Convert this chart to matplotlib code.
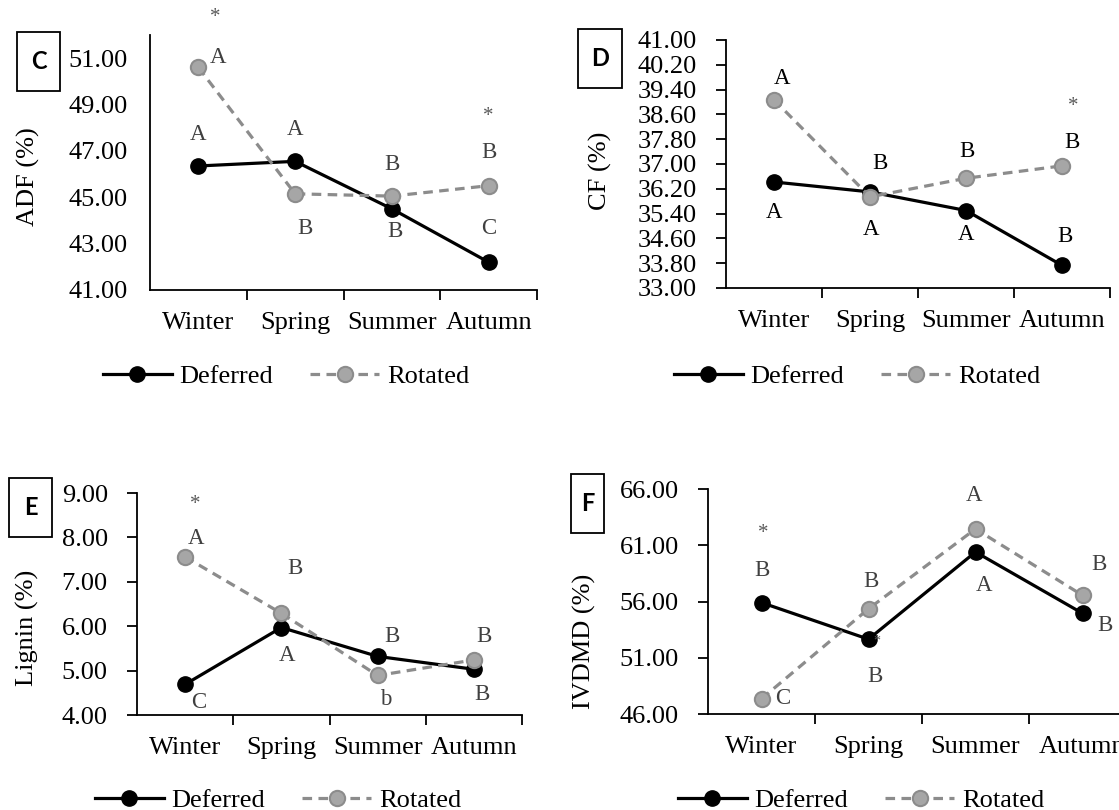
import matplotlib
matplotlib.use("Agg")
import matplotlib.pyplot as plt
from matplotlib.patches import Rectangle

plt.rcParams['font.family'] = ['Liberation Serif', 'DejaVu Serif']

seasons = ["Winter", "Spring", "Summer", "Autumn"]

# C - ADF
adf_deferred = [46.35, 46.55, 44.50, 42.20]
adf_rotated = [50.60, 45.15, 45.05, 45.50]
adf_def_letters = ["A", "A", "B", "C"]
adf_rot_letters = ["A", "B", "B", "B"]

# D - CF
cf_deferred = [36.42, 36.10, 35.50, 33.73]
cf_rotated = [39.07, 35.94, 36.54, 36.94]
cf_def_letters = ["A", "A", "A", "B"]
cf_rot_letters = ["A", "B", "B", "B"]

# E - Lignin
lig_deferred = [4.69, 5.97, 5.32, 5.03]
lig_rotated = [7.56, 6.29, 4.89, 5.24]
lig_def_letters = ["C", "A", "B", "B"]
lig_rot_letters = ["A", "B", "b", "B"]

# F - IVDMD
ivd_deferred = [55.90, 52.65, 60.40, 54.95]
ivd_rotated = [47.35, 55.35, 62.45, 56.55]
ivd_def_letters = ["B", "B", "A", "B"]
ivd_rot_letters = ["C", "B", "A", "B"]

W, H = 1119, 810
fig = plt.figure(figsize=(W / 100, H / 100), dpi=100)

FS = 19
LETTER_FS = 16.5


def fx(px):
    return px / W


def fy(py):
    return 1 - py / H


def panel(box, label, ylabel, ylim, yticks, deferred, rotated,
          def_letters, rot_letters, def_off, rot_off, stars,
          letter_color, ytick_len, ylabel_xy, legend_xy, label_box):
    left, top, right, bottom = box
    ax = fig.add_axes([fx(left), fy(bottom), fx(right - left), (bottom - top) / H])
    x = list(range(len(seasons)))
    ax.plot(x, deferred, color="black", lw=2.3, marker="o", ms=11,
            mfc="black", mec="black", label="Deferred", zorder=3)
    ax.plot(x, rotated, color="#8c8c8c", lw=2.3, ls=(0, (3, 2)), marker="o",
            ms=11, mfc="#a6a6a6", mec="#8c8c8c", mew=1.5, label="Rotated", zorder=4)

    ax.set_xlim(-0.5, 3.5)
    ax.set_ylim(*ylim)
    ax.set_yticks(yticks)
    ax.set_yticklabels(["%.2f" % v for v in yticks])
    ax.set_xticks(x)
    ax.set_xticklabels(seasons)
    ax.set_xticks([0.5, 1.5, 2.5, 3.5], minor=True)
    ax.tick_params(axis="x", which="major", length=0, pad=16, labelsize=FS)
    ax.tick_params(axis="x", which="minor", length=7, width=1.3, direction="out")
    ax.tick_params(axis="y", length=ytick_len, width=1.3,
                   pad=16 if ytick_len == 0 else 14, labelsize=FS)
    for s in ("top", "right"):
        ax.spines[s].set_visible(False)
    for s in ("left", "bottom"):
        ax.spines[s].set_linewidth(1.3)

    for i, (t, off) in enumerate(zip(def_letters, def_off)):
        ax.annotate(t, (i, deferred[i]), xytext=off, textcoords="offset points",
                    ha="center", va="center", fontsize=LETTER_FS, color=letter_color)
    for i, (t, off) in enumerate(zip(rot_letters, rot_off)):
        ax.annotate(t, (i, rotated[i]), xytext=off, textcoords="offset points",
                    ha="center", va="center", fontsize=LETTER_FS, color=letter_color)
    for i, series, off, size in stars:
        vals = deferred if series == "d" else rotated
        ax.annotate("*", (i, vals[i]), xytext=off, textcoords="offset points",
                    ha="center", va="center", fontsize=size, color="#595959")

    fig.text(fx(ylabel_xy[0]), fy(ylabel_xy[1]), ylabel, rotation=90,
             ha="center", va="center", fontsize=FS)

    ax.legend(loc="center", bbox_to_anchor=(fx(legend_xy[0]), fy(legend_xy[1])),
              bbox_transform=fig.transFigure, ncol=2, frameon=False,
              fontsize=FS, handlelength=2.6, handletextpad=0.3, columnspacing=1.4)

    bx0, by0, bx1, by1 = label_box
    fig.patches.append(Rectangle((fx(bx0), fy(by1)), fx(bx1 - bx0), (by1 - by0) / H,
                                 transform=fig.transFigure, fill=False,
                                 edgecolor="black", lw=1.3))
    fig.text(fx((bx0 + bx1) / 2), fy((by0 + by1) / 2), label, ha="center",
             va="center", fontsize=17, fontweight="bold", family="Lato")
    return ax


panel((150, 35, 537, 290), "C", "ADF (%)", (41, 52), [41, 43, 45, 47, 49, 51],
      adf_deferred, adf_rotated, adf_def_letters, adf_rot_letters,
      [(0, 23), (0, 23), (2, -16), (0, 24)],
      [(14, 7), (7, -25), (0, 23), (0, 24)],
      [(0, "r", (12, 36), 15), (3, "r", (0, 50), 15)],
      "#404040", 0, (28, 177), (286, 376), (17, 32, 60, 91))

panel((726, 40, 1110, 288), "D", "CF (%)", (33, 41),
      [33.0, 33.8, 34.6, 35.4, 36.2, 37.0, 37.8, 38.6, 39.4, 40.2, 41.0],
      cf_deferred, cf_rotated, cf_def_letters, cf_rot_letters,
      [(0, -22), (1, -27), (0, -17), (2, 21)],
      [(6, 15), (7, 24), (1, 19), (7, 17)],
      [(3, "r", (8, 43), 15)],
      "black", 7, (600, 171), (857, 376), (578, 29, 622, 88))

panel((137, 493, 522, 715), "E", "Lignin (%)", (4, 9), [4, 5, 6, 7, 8, 9],
      lig_deferred, lig_rotated, lig_def_letters, lig_rot_letters,
      [(10, -13), (4, -20), (10, 14), (6, -18)],
      [(8, 13), (10, 32), (6, -17), (7, 17)],
      [(0, "r", (7, 38), 15)],
      "#404040", 7, (27, 628), (278, 800), (9, 478, 52, 537))

panel((708, 489, 1136, 714), "F", "IVDMD (%)", (46, 66), [46, 51, 56, 61, 66],
      ivd_deferred, ivd_rotated, ivd_def_letters, ivd_rot_letters,
      [(0, 23), (5, -27), (6, -24), (16, -9)],
      [(15, 0), (2, 20), (-1, 24), (12, 22)],
      [(0, "d", (1, 50), 15), (1, "d", (6, -1), 10)],
      "#404040", 7, (584, 641), (861, 800), (571, 474, 604, 533))

fig.savefig("out.png", dpi=100)
